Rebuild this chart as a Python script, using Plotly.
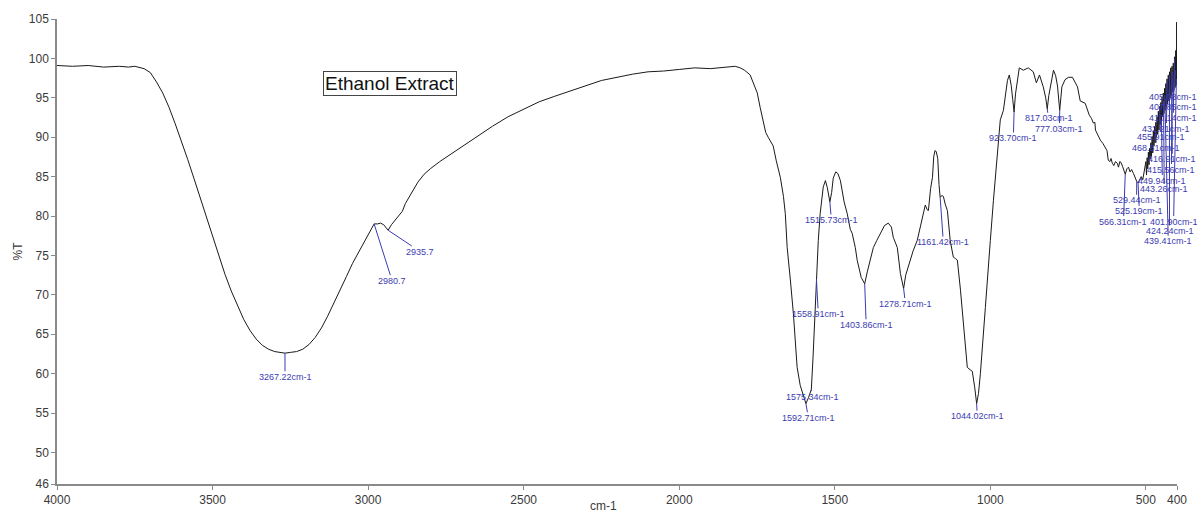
import numpy as np
import plotly.graph_objects as go

# FTIR spectrum of the ethanol extract: wavenumber (cm-1) and transmittance (%T)
wavenumber = [
    4000, 3950, 3900, 3850, 3800, 3770, 3750, 3735, 3720, 3700, 3680, 3660, 3640,
    3620, 3600, 3580, 3560, 3540, 3520, 3500, 3480, 3460, 3440, 3420, 3400, 3380,
    3360, 3340, 3320, 3300, 3285, 3267.22, 3250, 3230, 3210, 3190, 3170, 3150,
    3130, 3110, 3090, 3070, 3050, 3030, 3010, 2995, 2985, 2980.7, 2970, 2960,
    2950, 2940, 2935.7, 2925, 2910, 2900, 2890, 2880, 2860, 2840, 2820, 2800,
    2770, 2740, 2700, 2650, 2600, 2550, 2500, 2450, 2400, 2350, 2300, 2250,
    2200, 2150, 2100, 2050, 2000, 1950, 1900, 1850, 1820, 1804, 1790, 1772,
    1760, 1749, 1740, 1730, 1722, 1714, 1706, 1698, 1688, 1675, 1665, 1659,
    1653, 1648, 1643, 1633, 1625, 1621, 1611, 1600, 1592.71, 1584, 1575.34,
    1570, 1563, 1558.91, 1553, 1547, 1537, 1530, 1524, 1515.73, 1510, 1505,
    1497, 1490, 1482, 1470, 1460, 1450, 1444, 1434, 1428, 1415, 1403.86, 1395,
    1386, 1376, 1365, 1354, 1340, 1328, 1318, 1312, 1299, 1289, 1282, 1278.71,
    1272, 1264, 1248, 1235, 1225, 1215, 1209, 1203, 1199, 1192, 1186, 1182,
    1178, 1174, 1169, 1165, 1161.42, 1155, 1151, 1145, 1138, 1129, 1119, 1112,
    1106, 1096, 1087, 1074, 1065, 1058, 1050, 1044.02, 1038, 1032, 1016, 1006,
    1000, 990, 977, 968, 958, 945, 939, 933, 928, 923.70, 919, 913, 907, 894,
    878, 862, 852, 842, 830, 822, 817.03, 812, 807, 797, 790, 784, 777.03, 770,
    760, 749, 736, 720, 711, 695, 682, 675, 669, 664, 662, 655, 646, 638, 630,
    625, 621, 616, 612, 608, 603, 598, 592, 588, 584, 580, 575, 570, 566.31,
    561, 556, 551, 546, 540, 535, 529.44, 525.19, 520, 515, 510, 505, 500, 498,
    496, 494, 492, 490, 488, 486, 484, 482, 480, 478, 476, 474, 472, 470, 468,
    466, 464, 462, 460, 458, 456, 454, 452, 450, 448, 446, 444, 442, 440, 438,
    436, 434, 432, 430, 428, 426, 424, 422, 420, 418, 416, 414, 412, 410, 408,
    406, 404, 402, 401, 400,
]
transmittance = [
    99.1, 99.0, 99.1, 98.9, 99.0, 98.9, 99.0, 98.8, 98.7, 98.2, 97.0, 95.6, 93.8,
    91.7, 89.5, 87.2, 84.8, 82.3, 79.8, 77.3, 74.9, 72.6, 70.5, 68.6, 66.9, 65.5,
    64.4, 63.6, 63.1, 62.8, 62.7, 62.6, 62.7, 62.8, 63.1, 63.7, 64.6, 65.8,
    67.3, 68.9, 70.6, 72.3, 74.0, 75.4, 76.8, 77.9, 78.7, 79.0, 79.0, 79.1,
    78.9, 78.4, 78.2, 78.9, 79.6, 80.1, 80.6, 81.6, 83.0, 84.3, 85.3, 86.0,
    86.9, 87.7, 88.8, 90.1, 91.4, 92.6, 93.6, 94.5, 95.2, 95.9, 96.6, 97.2,
    97.6, 98.0, 98.3, 98.4, 98.6, 98.8, 98.7, 98.9, 99.0, 98.8, 98.5, 97.9,
    96.8, 95.6, 93.8, 91.8, 90.6, 90.0, 89.4, 88.9, 87.0, 84.9, 82.5, 80.3,
    76.0, 73.5, 72.0, 67.6, 63.5, 60.8, 58.5, 57.0, 56.2, 57.0, 58.0,
    62.0, 69.0, 72.0, 76.9, 80.3, 83.7, 84.5, 83.6, 81.8, 83.0, 84.8,
    85.6, 85.4, 84.5, 81.8, 80.3, 78.3, 77.8, 76.0, 74.4, 72.2, 71.4, 73.0,
    74.4, 76.0, 76.9, 77.8, 78.8, 79.1, 78.6, 77.3, 76.0, 72.7, 71.3, 70.8,
    72.5, 73.5, 75.6, 76.9, 78.6, 80.5, 81.4, 80.8, 80.7, 83.5, 84.9, 87.5,
    88.3, 88.2, 87.3, 84.0, 82.4, 82.6, 82.5, 81.5, 80.7, 76.9, 74.8, 74.6,
    74.4, 70.6, 66.4, 60.8, 60.5, 60.3, 58.2, 56.2, 57.5, 60.0, 68.4, 74.4,
    76.9, 82.0, 88.0, 92.2, 93.4, 97.2, 97.9, 96.6, 94.8, 93.2, 95.5, 97.4, 98.8, 98.5,
    98.8, 98.3, 96.9, 97.9, 96.4, 95.0, 93.6, 95.3, 96.4, 98.5, 97.8, 96.5, 93.4, 96.4,
    97.3, 97.6, 97.6, 96.4, 94.6, 94.3, 92.8, 92.4, 91.8, 91.9, 90.9, 90.3, 89.6, 89.2, 88.7,
    88.3, 87.1, 86.9, 87.3, 86.7, 86.4, 86.9, 86.7, 86.2, 86.9, 86.8, 86.3, 85.7, 85.3,
    86.0, 86.2, 85.6, 85.9, 85.4, 84.9, 84.4, 84.2, 84.6, 85.0, 84.6, 85.6, 86.9, 85.2,
    87.4, 86.0, 88.1, 86.5, 88.6, 87.2, 89.3, 87.6, 90.1, 88.0, 90.8, 88.9, 91.4, 89.3, 91.9,
    90.0, 92.6, 90.4, 93.3, 90.9, 93.9, 91.6, 94.4, 92.0, 95.1, 92.6, 95.6, 93.0, 96.2, 93.4,
    96.8, 93.8, 97.4, 94.2, 97.9, 94.6, 98.3, 95.0, 98.8, 95.3, 99.0, 95.7, 99.4, 96.0, 100.2,
    96.3, 101.0, 96.6, 104.6, 99.5,
]

# Peak picks: marked wavenumber, printed label, and where the label text sits
peak_wn = [3267.22, 2980.7, 2935.7, 1515.73, 1558.91, 1575.34, 1592.71, 1403.86,
           1278.71, 1161.42, 1044.02, 923.70, 817.03, 777.03,
           405.08, 407.85, 410.14, 432.21, 455.91, 468.81, 416.91, 415.56,
           449.94, 443.26, 529.44, 525.19, 566.31, 401.90, 424.24, 439.41]
peak_text = ["3267.22cm-1", "2980.7", "2935.7", "1515.73cm-1", "1558.91cm-1",
             "1575.34cm-1", "1592.71cm-1", "1403.86cm-1", "1278.71cm-1",
             "1161.42cm-1", "1044.02cm-1", "923.70cm-1", "817.03cm-1", "777.03cm-1",
             "405.08cm-1", "407.85cm-1", "410.14cm-1", "432.21cm-1", "455.91cm-1",
             "468.81cm-1", "416.91cm-1", "415.56cm-1", "449.94cm-1", "443.26cm-1",
             "529.44cm-1", "525.19cm-1", "566.31cm-1", "401.90cm-1", "424.24cm-1",
             "439.41cm-1"]
label_wn = [3267, 2923, 2833, 1511, 1553, 1572, 1585, 1399, 1273, 1151, 1042, 926,
            813, 778, 412, 412, 412, 434, 453, 466, 415, 418, 447, 441, 530, 521,
            572, 411, 424, 428]
label_t = [59.6, 71.8, 75.5, 79.5, 67.6, 57.1, 54.4, 66.2, 68.9, 76.7, 54.6, 89.9,
           92.4, 91.1, 95.1, 93.8, 92.4, 91.1, 90.0, 88.6, 87.2, 85.9, 84.5, 83.4,
           82.0, 80.6, 79.3, 79.3, 78.1, 76.8]

x_ticks = [4000, 3500, 3000, 2500, 2000, 1500, 1000, 500, 400]
y_ticks = [46, 50, 55, 60, 65, 70, 75, 80, 85, 90, 95, 100, 105]

axis_font = dict(family="Liberation Sans Narrow, Arial Narrow, Liberation Sans, Arial",
                 size=12, color="#3a3a3a")
peak_color = "#3b3bb0"

fig = go.Figure()
fig.add_trace(go.Scatter(x=wavenumber, y=transmittance, mode="lines",
                         line=dict(color="#1a1a1a", width=1), hoverinfo="skip"))

# order the spectrum ascending for interpolation of the pick positions
wn_arr = np.array(wavenumber)[::-1]
t_arr = np.array(transmittance)[::-1]
annotations = []
for wn, txt, lx, ly in zip(peak_wn, peak_text, label_wn, label_t):
    annotations.append(dict(
        x=wn, y=float(np.interp(wn, wn_arr, t_arr)), xref="x", yref="y",
        ax=lx, ay=ly, axref="x", ayref="y",
        text=txt, showarrow=True, arrowhead=0, arrowwidth=1, arrowcolor=peak_color,
        font=dict(family="Liberation Sans, Arial", size=9, color=peak_color),
        borderpad=0,
    ))

annotations.append(dict(
    x=0.2973, y=0.8613, xref="paper", yref="paper", xanchor="center", yanchor="middle",
    text="Ethanol Extract", showarrow=False,
    font=dict(family="Liberation Sans, Arial", size=19, color="#111"),
    bordercolor="#444", borderwidth=1, borderpad=1, bgcolor="white",
))
annotations.append(dict(x=0.4875, y=-0.047, xref="paper", yref="paper", text="cm-1",
                        showarrow=False, xanchor="center", yanchor="middle",
                        font=dict(family="Liberation Sans, Arial", size=12, color="#3a3a3a")))
annotations.append(dict(x=-0.0357, y=0.50, xref="paper", yref="paper", text="%T",
                        showarrow=False, textangle=-90, xanchor="center", yanchor="middle",
                        font=dict(family="Liberation Sans, Arial", size=12, color="#3a3a3a")))

fig.update_layout(
    width=1197, height=514,
    margin=dict(l=57, r=20, t=19, b=30),
    plot_bgcolor="white", paper_bgcolor="white",
    showlegend=False,
    annotations=annotations,
    xaxis=dict(range=[4000, 400], tickvals=x_ticks, ticktext=[str(v) for v in x_ticks],
               ticks="outside", ticklen=4, tickcolor="#8a8a8a", showline=True,
               linecolor="#8a8a8a", linewidth=1.5, showgrid=False, zeroline=False,
               tickfont=axis_font, automargin=False),
    yaxis=dict(range=[46, 105], tickvals=y_ticks, ticks="outside", ticklen=4,
               tickcolor="#8a8a8a", showline=True, linecolor="#8a8a8a", linewidth=1.5,
               showgrid=False, zeroline=False, tickfont=axis_font, automargin=False),
)

fig.write_html("out.html")
